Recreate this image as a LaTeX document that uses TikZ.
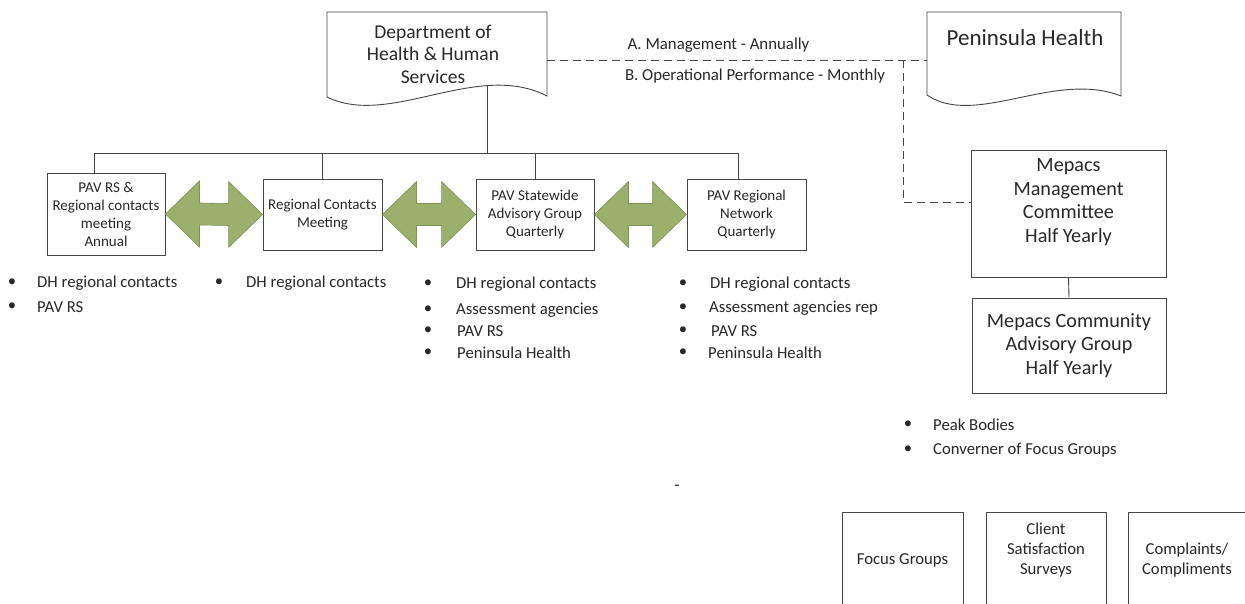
\documentclass[tikz,border=0pt]{standalone}
\usepackage{fontspec}
\setmainfont{Carlito}
\usetikzlibrary{calc}
\definecolor{arrfill}{RGB}{155,176,108}
\definecolor{arrline}{RGB}{125,145,85}
\definecolor{lncol}{RGB}{70,70,70}
\definecolor{txcol}{RGB}{40,40,40}
\newcommand\dblarr[2]{\filldraw[arr] (#1.east) -- ++(34,-33) -- ++(0,22) -- ($(#2.west)+(-34,-11)$) -- ++(0,-22) -- (#2.west) -- ++(-34,33) -- ++(0,-22) -- ($(#1.east)+(34,11)$) -- ++(0,22) -- cycle;}
\newcommand\bitem[5]{\node[bul] (#1b) at (#2,#3) {•}; \node[itm] (#1) at (#4,#3) {#5};}
\begin{document}
\begin{tikzpicture}[x=1pt,y=-1pt,
 ln/.style={draw=lncol, line width=0.9pt},
 box/.style={ln, rectangle, inner sep=0pt, align=center, text=txcol},
 sbox/.style={box, font=\fontsize{15}{18}\selectfont},
 bbox/.style={box, font=\fontsize{20.2}{23.5}\selectfont},
 txt/.style={text=txcol, inner sep=0pt, align=center},
 lab/.style={txt, font=\fontsize{16.8}{20}\selectfont},
 bul/.style={txt, font=\fontsize{16.7}{20}\selectfont},
 itm/.style={txt, anchor=west, font=\fontsize{16.7}{20}\selectfont},
 arr/.style={fill=arrfill, draw=arrline, line width=0.6pt},
 dsh/.style={ln, dash pattern=on 8pt off 5pt}]
\useasboundingbox (0,0) rectangle (1245,604);
\clip (0,0) rectangle (1245,604);
\fill[white] (0,0) rectangle (1245,604);

% document shapes
\node[inner sep=0pt, minimum width=220pt, minimum height=85pt] (dhhs) at (437,54.5) {};
\draw[ln] (327,12) -- (547,12) -- (547,96) .. controls (477,60) and (390,128) .. (327,97) -- cycle;
\node[txt, font=\fontsize{19.5}{22.5}\selectfont] (dhhsT) at (433,54) {Department of\\Health \& Human\\Services};
\coordinate (dhb) at (487,85);

\node[inner sep=0pt, minimum width=194pt, minimum height=84pt] (ph) at (1024,54) {};
\draw[ln] (927,12) -- (1121,12) -- (1121,96) .. controls (1055,70) and (975,128) .. (927,95) -- cycle;
\node[txt, font=\fontsize{23}{27}\selectfont] (phT) at (1025,38) {Peninsula Health};

% labels
\node[lab] (la) at (718.5,45) {A. Management - Annually};
\node[lab] (lb) at (755,76) {B. Operational Performance - Monthly};

% row of boxes
\node[sbox, minimum width=118pt, minimum height=82pt] (b1) at (106,214) {PAV RS \&\\Regional contacts\\meeting\\Annual};
\node[sbox, minimum width=119pt, minimum height=71pt] (b2) at (322.5,214.5) {Regional Contacts\\Meeting};
\node[sbox, minimum width=118pt, minimum height=71pt] (b3) at (535,214.5) {PAV Statewide\\Advisory Group\\Quarterly};
\node[sbox, minimum width=119pt, minimum height=71pt] (b4) at (746.5,214.5) {PAV Regional\\Network\\Quarterly};

% bus
\coordinate (busL) at (94,153);
\coordinate (busR) at (738,153);
\draw[ln] (b1.north -| busL) -- (busL) -- (busR) -- (b4.north -| busR);
\draw[ln] (b2.north) -- (b2.north |- busL);
\draw[ln] (b3.north) -- (b3.north |- busL);
\draw[ln] (dhb) -- (dhb |- busL);

% double arrows
\dblarr{b1}{b2}
\dblarr{b2}{b3}
\dblarr{b3}{b4}

% Mepacs
\node[box, minimum width=195pt, minimum height=127pt] (mmc) at (1068.5,213.5) {};
\node[txt, font=\fontsize{20.2}{23.5}\selectfont] (mmcT) at (1068.5,202) {Mepacs\\Management\\Committee\\Half Yearly};
\node[bbox, minimum width=194pt, minimum height=95pt] (mcag) at (1069,345.5) {Mepacs Community\\Advisory Group\\Half Yearly};
\draw[ln] (mmc.south) -- (mcag.north);

% dashed connector
\coordinate (dj) at (903,60);
\coordinate (dk) at (903,202);
\draw[dsh] (dhhs.east |- dj) -- (ph.west |- dj);
\draw[dsh] (dj) -- (dk) -- (mmc.west |- dk);

% bullet lists
\bitem{l1a}{12}{283}{37}{DH regional contacts}
\bitem{l1b}{12}{307}{37}{PAV RS}
\bitem{l2a}{219}{283}{246}{DH regional contacts}
\bitem{l3a}{428}{284}{456}{DH regional contacts}
\bitem{l3b}{428}{310}{456}{Assessment agencies}
\bitem{l3c}{428}{331}{457}{PAV RS}
\bitem{l3d}{428}{353}{457}{Peninsula Health}
\bitem{l4a}{683}{284}{710}{DH regional contacts}
\bitem{l4b}{683}{308}{709}{Assessment agencies rep}
\bitem{l4c}{683}{331}{711}{PAV RS}
\bitem{l4d}{683}{353}{708}{Peninsula Health}
\bitem{l5a}{908}{425}{933}{Peak Bodies}
\bitem{l5b}{908}{450}{933}{Converner of Focus Groups}

\node[lab] (dash) at (677,488) {-};

% bottom boxes
\node[box, minimum width=121pt, minimum height=108pt] (fg) at (902.5,566) {};
\node[txt, font=\fontsize{16.7}{20}\selectfont] (fgT) at (902.5,560) {Focus Groups};
\node[box, minimum width=120pt, minimum height=108pt] (css) at (1046,566) {};
\node[txt, font=\fontsize{16.7}{20}\selectfont] (cssT) at (1046,550) {Client\\Satisfaction\\Surveys};
\node[box, minimum width=132pt, minimum height=108pt] (cc) at (1194,566) {};
\node[txt, font=\fontsize{16.7}{20}\selectfont] (ccT) at (1187,560) {Complaints/\\Compliments};
\end{tikzpicture}
\end{document}
